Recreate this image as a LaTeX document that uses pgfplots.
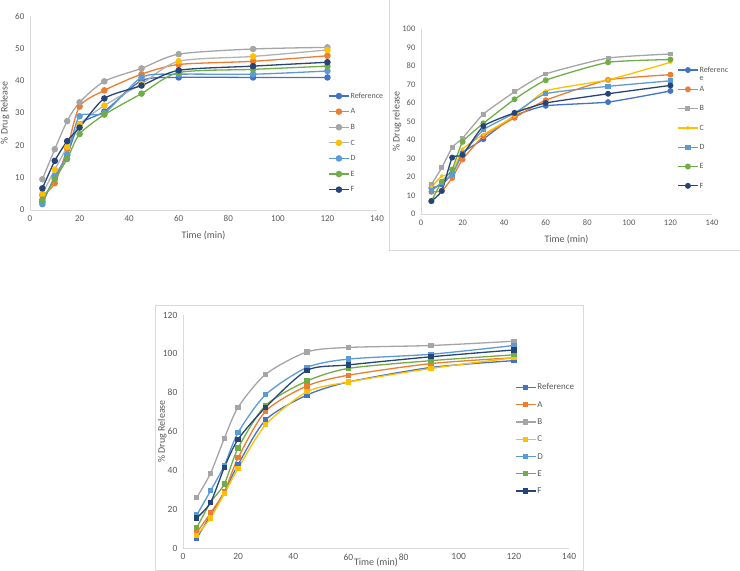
\documentclass[border=0pt]{standalone}
\usepackage{fontspec}
\setmainfont{Carlito}
\usepackage{pgfplots}
\usepackage{pgfplotstable}
\pgfplotsset{compat=1.18}
\definecolor{cRef}{HTML}{4472C4}
\definecolor{cA}{HTML}{ED7D31}
\definecolor{cB}{HTML}{A5A5A5}
\definecolor{cC}{HTML}{FFC000}
\definecolor{cD}{HTML}{5B9BD5}
\definecolor{cE}{HTML}{70AD47}
\definecolor{cF}{HTML}{264478}
\definecolor{axisgray}{HTML}{D9D9D9}
\definecolor{tickgray}{HTML}{595959}

\pgfplotstableread{
t   ref  A    B    C    D    E    F
5   2.5  4.5  9.5  5.0  1.8  3.2  6.7
10  10.0 8.3  18.8 12.5 10.5 9.5  15.2
15  17.0 19.0 27.5 19.5 17.0 15.8 21.3
20  26.5 32.0 33.3 26.5 29.0 23.5 25.5
30  30.5 37.0 39.8 32.3 30.0 29.5 34.5
45  40.0 42.0 43.8 39.0 41.0 36.0 38.5
60  41.0 45.0 48.2 46.0 42.0 42.5 43.2
90  41.0 46.0 49.8 47.5 42.0 43.5 44.5
120 41.0 47.7 50.3 49.5 43.0 44.5 45.7
}\tabone

\pgfplotstableread{
t   ref  A    B    C    D    E    F
5   14.0 12.0 16.0 14.5 12.5 7.0  7.0
10  16.0 12.5 25.0 20.5 17.0 17.5 12.5
15  22.0 19.5 36.0 22.0 21.5 24.0 30.5
20  33.0 29.5 41.0 35.0 32.0 39.0 32.0
30  40.5 42.0 54.0 43.0 45.5 49.0 47.5
45  53.0 52.0 66.0 53.0 54.5 62.0 54.7
60  58.5 61.5 75.7 66.5 65.0 72.3 60.0
90  60.5 72.5 84.3 72.5 69.0 82.0 65.0
120 66.5 75.3 86.5 82.0 72.0 83.5 69.5
}\tabtwo

\pgfplotstableread{
t   ref  A    B     C    D     E    F
5   5.0  8.0  26.0  6.5  17.0  10.5 15.5
10  17.0 18.0 38.5  15.5 29.5  23.5 23.5
15  29.0 29.0 56.5  28.0 42.5  33.0 41.5
20  43.0 46.5 72.5  41.0 59.5  51.5 56.0
30  66.0 70.5 89.5  63.5 79.0  73.5 72.5
45  78.8 83.5 101.0 80.5 93.0  86.0 91.5
60  85.5 89.0 103.3 85.5 97.3  92.5 94.3
90  93.0 95.0 104.3 92.5 99.8  96.5 98.5
120 96.5 98.0 106.5 98.0 104.3 99.5 102.0
}\tabthree

\pgfplotsset{
  exstyle/.style={
    scale only axis,
    axis lines=left,
    axis line style={draw=axisgray,-,line width=0.8pt},
    tick style={draw=none},
    xmin=0, xmax=140, xtick={0,20,...,140},
    ymin=0,
    ticklabel style={text=tickgray},
    label style={text=tickgray},
    /pgf/number format/assume math mode=true,
    legend cell align=left,
    legend style={draw=none, fill=none, text=tickgray, inner sep=0pt, anchor=north west},
    legend image code/.code={\draw[mark repeat=2,mark phase=2] plot coordinates {(0pt,0pt)(10pt,0pt)(20pt,0pt)};},
    every axis plot/.append style={line width=1.3pt, smooth, tension=0.45},
  }
}

\begin{document}
\begin{tikzpicture}
\path[use as bounding box] (0,0) rectangle (740pt,-571pt);

% Panel 1
\begin{axis}[exstyle,
  at={(30pt,-210pt)}, anchor=south west,
  width=347pt, height=194pt,
  ymax=60, ytick={0,10,...,60},
  ticklabel style={font=\fontsize{9}{10}\selectfont},
  xlabel={Time (min)}, ylabel={\% Drug Release},
  label style={font=\fontsize{10}{11}\selectfont},
  xlabel style={at={(axis description cs:0.5,-0.134)}, anchor=center},
  ylabel style={at={(axis description cs:-0.072,0.5)}, anchor=center, rotate=0},
  legend style={at={(0.859,0.613)}, row sep=6.1pt,
    nodes={font=\fontsize{8}{9}\selectfont, inner sep=1pt, text height=6pt, text depth=1.5pt}},
  every axis plot/.append style={mark=*, mark size=2.6pt},
]
\addplot[color=cRef] table[x=t,y=ref]{\tabone}; \addlegendentry{Reference}
\addplot[color=cA] table[x=t,y=A]{\tabone}; \addlegendentry{A}
\addplot[color=cB] table[x=t,y=B]{\tabone}; \addlegendentry{B}
\addplot[draw=cB!85, mark options={draw=cC,fill=cC}] table[x=t,y=C]{\tabone}; \addlegendentry{C}
\addplot[color=cD] table[x=t,y=D]{\tabone}; \addlegendentry{D}
\addplot[color=cE] table[x=t,y=E]{\tabone}; \addlegendentry{E}
\addplot[color=cF] table[x=t,y=F]{\tabone}; \addlegendentry{F}
\end{axis}

% Panel 2 frame
\draw[axisgray, line width=0.6pt] (389pt,0pt) -- (389pt,-250pt) -- (740pt,-250pt);

\begin{axis}[exstyle,
  at={(421pt,-214pt)}, anchor=south west,
  width=291pt, height=185pt,
  ymax=100, ytick={0,10,...,100},
  ticklabel style={font=\fontsize{8.5}{9.5}\selectfont},
  xlabel={Time (min)}, ylabel={\% Drug release},
  label style={font=\fontsize{10}{11}\selectfont},
  xlabel style={at={(axis description cs:0.5,-0.1405)}, anchor=center},
  ylabel style={at={(axis description cs:-0.0825,0.5)}, anchor=center, rotate=0},
  legend style={at={(0.88,0.805)}, row sep=9.8pt,
    nodes={font=\fontsize{8}{9}\selectfont, inner sep=1pt, text height=6pt, text depth=1.5pt}},
  every axis plot/.append style={mark=*, mark size=2.3pt, tension=0.3},
]
\addplot[color=cRef] table[x=t,y=ref]{\tabtwo}; \addlegendentry{\begin{tabular}[t]{@{}l@{}}Referenc\\[-1pt]e\end{tabular}}
\addplot[color=cA] table[x=t,y=A]{\tabtwo}; \addlegendentry{A}
\addplot[color=cB, mark=square*, mark size=1.8pt] table[x=t,y=B]{\tabtwo}; \addlegendentry{B}
\addplot[color=cC, mark size=1.2pt] table[x=t,y=C]{\tabtwo}; \addlegendentry{C}
\addplot[color=cD, mark=square*, mark size=2pt] table[x=t,y=D]{\tabtwo}; \addlegendentry{D}
\addplot[color=cE] table[x=t,y=E]{\tabtwo}; \addlegendentry{E}
\addplot[color=cF] table[x=t,y=F]{\tabtwo}; \addlegendentry{F}
\end{axis}

% Panel 3 frame
\draw[axisgray, line width=0.6pt] (155pt,-305pt) rectangle (583pt,-570pt);

\begin{axis}[exstyle,
  at={(183pt,-548pt)}, anchor=south west,
  width=386pt, height=233pt,
  ymax=120, ytick={0,20,...,120},
  ticklabel style={font=\fontsize{9.5}{10.5}\selectfont},
  xlabel={Time (min)}, ylabel={\% Drug Release},
  label style={font=\fontsize{10}{11}\selectfont},
  xlabel style={at={(axis description cs:0.5,-0.064)}, anchor=center},
  ylabel style={at={(axis description cs:-0.054,0.5)}, anchor=center, rotate=0},
  legend style={at={(0.86,0.712)}, row sep=7.3pt,
    nodes={font=\fontsize{9}{10}\selectfont, inner sep=1pt, text height=6.5pt, text depth=1.5pt}},
  every axis plot/.append style={mark=square*, mark size=2pt},
]
\addplot[color=cRef] table[x=t,y=ref]{\tabthree}; \addlegendentry{Reference}
\addplot[color=cA] table[x=t,y=A]{\tabthree}; \addlegendentry{A}
\addplot[color=cB] table[x=t,y=B]{\tabthree}; \addlegendentry{B}
\addplot[color=cC] table[x=t,y=C]{\tabthree}; \addlegendentry{C}
\addplot[color=cD] table[x=t,y=D]{\tabthree}; \addlegendentry{D}
\addplot[color=cE] table[x=t,y=E]{\tabthree}; \addlegendentry{E}
\addplot[color=cF] table[x=t,y=F]{\tabthree}; \addlegendentry{F}
\end{axis}
\end{tikzpicture}
\end{document}
